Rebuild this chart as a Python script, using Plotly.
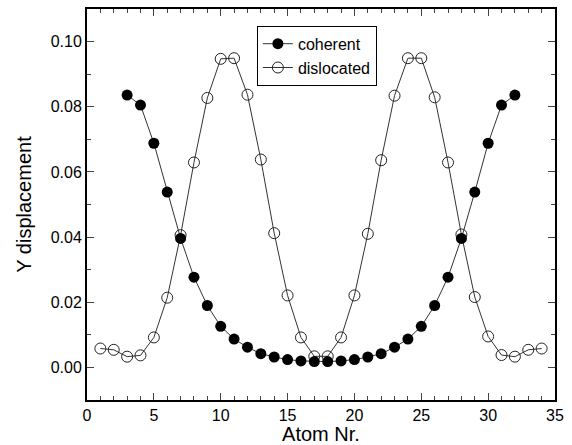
import plotly.graph_objects as go

coh_atoms = list(range(3, 33))
coh_vals = [0.0836, 0.0805, 0.0688, 0.0538, 0.0396, 0.0277, 0.0190, 0.0126, 0.0087, 0.0062,
            0.0042, 0.0032, 0.0024, 0.0020, 0.0018, 0.0018, 0.0020, 0.0024, 0.0032, 0.0042,
            0.0062, 0.0087, 0.0126, 0.0190, 0.0277, 0.0396, 0.0538, 0.0688, 0.0805, 0.0836]

dis_atoms = list(range(1, 35))
dis_vals = [0.0058, 0.0054, 0.0033, 0.0037, 0.0092, 0.0214, 0.0406, 0.0629, 0.0827, 0.0947,
            0.0949, 0.0837, 0.0638, 0.0412, 0.0221, 0.0092, 0.0034, 0.0034, 0.0092, 0.0221,
            0.0410, 0.0636, 0.0834, 0.0949, 0.0949, 0.0829, 0.0629, 0.0408, 0.0216, 0.0095,
            0.0038, 0.0033, 0.0054, 0.0058]

x_ticks = [0, 5, 10, 15, 20, 25, 30, 35]
y_ticks = [0.00, 0.02, 0.04, 0.06, 0.08, 0.10]
y_tick_labels = ["0.00", "0.02", "0.04", "0.06", "0.08", "0.10"]

fig = go.Figure()
fig.add_trace(go.Scatter(
    x=dis_atoms, y=dis_vals, mode="lines+markers", name="dislocated",
    line=dict(color="#333333", width=1),
    marker=dict(symbol="circle-open", size=11, color="#222222", line=dict(width=1)),
))
fig.add_trace(go.Scatter(
    x=coh_atoms, y=coh_vals, mode="lines+markers", name="coherent",
    line=dict(color="#333333", width=1),
    marker=dict(symbol="circle", size=11, color="black"),
))

font = "Liberation Sans, Arial, sans-serif"
fig.update_layout(
    width=572, height=445,
    margin=dict(l=87, r=17, t=9, b=45),
    paper_bgcolor="white", plot_bgcolor="white",
    font=dict(family=font, size=16, color="black"),
    showlegend=True,
    legend=dict(
        x=0.363, y=0.957, xanchor="left", yanchor="top",
        bordercolor="black", borderwidth=1, bgcolor="white",
        font=dict(size=16), traceorder="reversed",
        itemwidth=30, tracegroupgap=0,
    ),
)
fig.update_xaxes(
    range=[0, 35], tickvals=x_ticks, ticks="inside", ticklen=7, tickwidth=1,
    minor=dict(dtick=1, ticks="inside", ticklen=4, tickwidth=1, showgrid=False),
    showline=True, linecolor="black", linewidth=2, mirror="ticks",
    showgrid=False, zeroline=False, automargin=False,
    tickfont=dict(size=16),
    title=dict(text="Atom Nr.", font=dict(size=20), standoff=2),
)
fig.update_yaxes(
    range=[-0.01, 0.11], tickvals=y_ticks, ticktext=y_tick_labels,
    ticks="inside", ticklen=7, tickwidth=1,
    minor=dict(dtick=0.01, tick0=0, ticks="inside", ticklen=4, tickwidth=1, showgrid=False),
    showline=True, linecolor="black", linewidth=2, mirror="ticks",
    showgrid=False, zeroline=False, automargin=False,
    tickfont=dict(size=16),
    title=dict(text="Y displacement", font=dict(size=20), standoff=14),
)
fig.write_html("out.html", config={"displayModeBar": False},
               post_script="document.body.style.margin='0px';")
